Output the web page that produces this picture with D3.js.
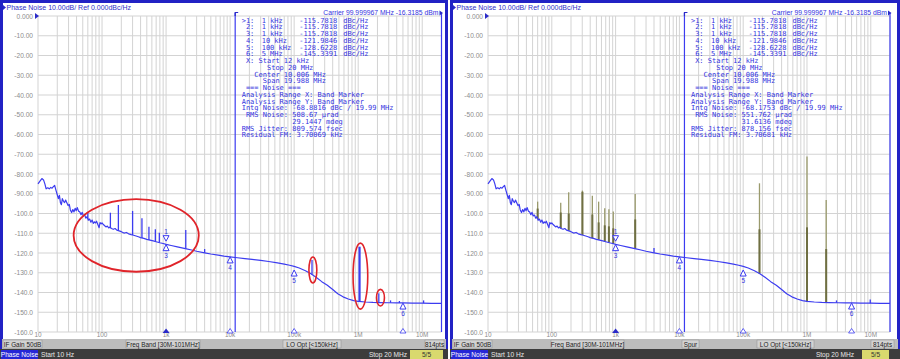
<!DOCTYPE html>
<html><head><meta charset="utf-8">
<script src="https://cdn.jsdelivr.net/npm/d3@7"></script>
<style>
html,body{margin:0;padding:0;background:#fff;}
svg{display:block;}
text{font-family:"Liberation Sans",Arial,sans-serif;}
.mono{font-family:"DejaVu Sans Mono",monospace;white-space:pre;}
</style></head><body>
<svg id="c" width="900" height="359"></svg>
<script>
// ---------------- DATA ----------------
const traceFreq = [10,10.8,11.5,12.2,12.8,13.4,14.2,15,15.8,16.6,17.5,18.2,19,20,20.8,21.6,22.4,23.2,24,25,26,27,28.2,29.5,30.8,32,33.5,35,36.5,38,39.5,41,43,45,47,49,51,53.5,56,58.5,61,64,67,70,73,76,79,82,86,90,93,97,100,105,110,115,121,127,133,140,150,160,170,185,200,220,240,260,285,310,340,370,400,450,500,560,630,700,800,900,1000,1200,1500,2000,2500,3000,4000,5000,6500,8000,10000,13000,17000,22000,30000,40000,55000,70000,85000,100000,120000,150000,180000,220000,270000,330000,400000,480000,580000,700000,850000,1000000,1300000,1700000,2200000,3000000,4000000,5000000,7000000,10000000,14000000,20000000];
const traceLevel = [-85,-83.5,-82.3,-83,-85,-87.5,-87,-87.5,-86.8,-87.2,-86.3,-85.8,-88,-90.5,-92.5,-90.8,-94.5,-95.5,-92.5,-93.8,-94.5,-93.2,-94.6,-96,-95.4,-98.2,-99.5,-98,-99.2,-97.4,-98.6,-97,-98.8,-99.2,-100.6,-99.4,-101.2,-100.8,-102.4,-101.6,-103.4,-102.8,-104.4,-103.3,-105,-104.2,-104.8,-103.9,-105.6,-107.2,-104.6,-105.2,-104.8,-105.6,-106.2,-106.8,-106.4,-107.3,-106.9,-107.6,-108,-107.6,-108.4,-108.8,-109.2,-109.9,-109.6,-110.3,-110.7,-111,-111.4,-111.8,-112.2,-112.6,-113.1,-113.5,-113.9,-114.3,-114.8,-115.2,-115.6,-116.2,-116.9,-117.8,-118.5,-119.1,-119.9,-120.5,-121.1,-121.6,-122,-122.4,-122.8,-123.2,-123.7,-124.3,-125,-125.6,-126.2,-126.8,-127.6,-129,-130.4,-132.3,-134.5,-136.3,-138.5,-140.6,-142.2,-143.3,-144.1,-144.5,-144.8,-145,-145.1,-145.2,-145.3,-145.3,-145.4,-145.4,-145.5,-145.5];

// left panel: spurs shown as spikes in the trace
const spikeFreq = [60,135,180,300,420,540,680,785,2030,4000,190000,1050000,2100000,3200000,4400000,10500000];
const spikePeak = [-99.5,-99.6,-95.7,-98.7,-102.4,-106.7,-108,-109.7,-108.4,-118,-123.5,-116.8,-140.4,-144,-144.3,-144];
const spikeBase = [-102.8,-107.4,-108.6,-110.9,-112.4,-113.4,-114.2,-114.7,-117.8,-119.9,-130.9,-144.6,-145.1,-145.2,-145.3,-145.4];

// right panel: spur-omitted trace, spurs as bars
const bumpFreq = [4000,2900000,9800000];
const bumpPeak = [-117.5,-144,-143.6];
const bumpBase = [-119.9,-145.2,-145.4];
const spurFreq = [60,138,184,302,432,542,676,785,920,2030,180000,1000000,2000000];
const spurTop  = [-94,-94.5,-89.3,-88.4,-91,-94,-97.4,-97.9,-99,-90.1,-84.7,-71.2,-93.2];
const spurMid  = [-97.5,-99.5,-100,-89,-100.5,-104.5,-106,-106.5,-107.5,-103,-108,-107,-118];
const spurBase = [-102.8,-107.5,-108.7,-110.9,-112.5,-113.3,-114.1,-114.7,-115.3,-117.8,-130.4,-144.5,-145.1];

// markers
const markerNum = [1,2,3,4,5,6];
const markerFreq = [1000,1000,1000,10000,100000,5000000];
const markerLevel = [-115.7818,-115.7818,-115.7818,-121.9846,-128.6228,-145.3391];
const markerFreqText = ["1 kHz","1 kHz","1 kHz","10 kHz","100 kHz","5 MHz"];
const markerLevelText = ["-115.7818","-115.7818","-115.7818","-121.9846","-128.6228","-145.3391"];

// axes
const yTickValues = [0,-10,-20,-30,-40,-50,-60,-70,-80,-90,-100,-110,-120,-130,-140,-150,-160];
const yTickLabels = ["0.000","-10.00","-20.00","-30.00","-40.00","-50.00","-60.00","-70.00","-80.00","-90.00","-100.0","-110.0","-120.0","-130.0","-140.0","-150.0","-160.0"];
const xTickValues = [10,100,1e3,1e4,1e5,1e6,1e7];
const xTickLabels = ["10","100","1k","10k","100k","1M","10M"];

// band marker
const bandStart = 12000, bandStop = 20000000;

// text blocks
const titleText = "Phase Noise 10.00dB/ Ref 0.000dBc/Hz";
const carrierText = "Carrier 99.999967 MHz   -16.3185 dBm";
const bandLines = [" X: Start 12 kHz","      Stop 20 MHz","   Center 10.006 MHz","     Span 19.988 MHz"," === Noise ===","Analysis Range X: Band Marker","Analysis Range Y: Band Marker"];
const leftNoise = ["Intg Noise: -68.8816 dBc / 19.99 MHz"," RMS Noise: 508.67 µrad","            29.1447 mdeg","RMS Jitter: 809.574 fsec","Residual FM: 3.70069 kHz"];
const rightNoise = ["Intg Noise: -68.1753 dBc / 19.99 MHz"," RMS Noise: 551.762 µrad","            31.6136 mdeg","RMS Jitter: 878.156 fsec","Residual FM: 3.70681 kHz"];
const leftStatus = ["IF Gain 50dB","Freq Band [30M-101MHz]","LO Opt [<150kHz]","814pts"];
const rightStatus = ["IF Gain 50dB","Freq Band [30M-101MHz]","Spur","LO Opt [<150kHz]","814pts"];

// red highlight ellipses (left panel) : freq range and level range
const ellF0 = [36,170000,832000,1930000];
const ellF1 = [3240,226000,1410000,2570000];
const ellTop = [-92.7,-122,-115,-138.4];
const ellBot = [-129.5,-135.2,-148.4,-146.8];

// ---------------- DRAW ----------------
const svg = d3.select("#c");
const BLUE = "#3c3cf0", TXT = "#3434e0", GRID = "#d3d3d3";

function panel(cfg){
  const g = svg.append("g");
  const x = d3.scaleLog().domain([10,2e7]).range([cfg.x0,cfg.x1]);
  const y = d3.scaleLinear().domain([0,-160]).range([16,332]);
  const L = cfg.ox;
  // outer frame
  g.append("rect").attr("x",L+1.5).attr("y",1.5).attr("width",cfg.w-3).attr("height",347).attr("fill","#fff").attr("stroke","#2222c4").attr("stroke-width",3);
  // title
  g.append("path").attr("d",`M${L+3},5 L${L+6},7.5 L${L+3},10 Z`).attr("fill","#2a2ac8");
  g.append("text").attr("x",L+6.5).attr("y",10).attr("font-size",7).attr("fill","#3030c8").text(titleText);
  // grid
  g.append("g").selectAll("line").data(x.ticks()).join("line")
    .attr("x1",d=>x(d)).attr("x2",d=>x(d)).attr("y1",y(0)).attr("y2",y(-160))
    .attr("stroke",GRID).attr("stroke-width",1);
  g.append("g").selectAll("line").data(yTickValues).join("line")
    .attr("x1",x(10)).attr("x2",x(2e7)).attr("y1",d=>y(d)).attr("y2",d=>y(d))
    .attr("stroke",GRID).attr("stroke-width",1);
  // y labels
  g.append("g").selectAll("text").data(yTickValues).join("text")
    .attr("x",cfg.x0-5).attr("y",d=>y(d)+2.5).attr("text-anchor","end")
    .attr("font-size",6.6).attr("fill","#8c8c8c").text((d,i)=>yTickLabels[i]);
  g.append("path").attr("d",`M${cfg.x0-3},${y(0)-3} L${cfg.x0+1},${y(0)} L${cfg.x0-3},${y(0)+3} Z`).attr("fill","#2a2ac8");
  // x labels
  g.append("g").selectAll("text").data(xTickValues).join("text")
    .attr("x",d=>x(d)).attr("y",337).attr("text-anchor","middle")
    .attr("font-size",6.4).attr("fill","#8c8c8c").text((d,i)=>xTickLabels[i]);
  // band marker lines
  const bx0 = x(bandStart), bx1 = x(bandStop);
  g.append("line").attr("x1",bx0).attr("x2",bx0).attr("y1",13).attr("y2",y(-160)).attr("stroke",BLUE).attr("stroke-width",1.2);
  g.append("line").attr("x1",bx1).attr("x2",bx1).attr("y1",13).attr("y2",y(-160)).attr("stroke",BLUE).attr("stroke-width",1.2);
  g.append("path").attr("d",`M${bx0},16 L${bx0},12.5 L${bx0+3},12.5`).attr("fill","none").attr("stroke","#2a2ac8").attr("stroke-width",1.2);
  // carrier text
  g.append("text").attr("x",cfg.x1-3).attr("y",15).attr("text-anchor","end").attr("font-size",6.8).attr("fill",TXT).text(carrierText);
  g.append("path").attr("d",`M${cfg.x1-2},10.5 L${cfg.x1+1.5},13 L${cfg.x1-2},15.5 Z`).attr("fill","#2a2ac8");
  // marker table
  const tx = bx0 + 6.5;
  const rowY = i => 22.5 + i*6.76;
  const mt = g.append("g").attr("font-size",7).attr("fill",TXT).attr("class","mono");
  markerNum.forEach((n,i)=>{
    mt.append("text").attr("class","mono").attr("x",tx).attr("y",rowY(i)).text((i===0?">":" ")+n+":");
    mt.append("text").attr("class","mono").attr("x",tx+20).attr("y",rowY(i)).text(markerFreqText[i]);
    mt.append("text").attr("class","mono").attr("x",tx+57.5).attr("y",rowY(i)).text(markerLevelText[i]);
    mt.append("text").attr("class","mono").attr("x",tx+101.5).attr("y",rowY(i)).text("dBc/Hz");
  });
  bandLines.concat(cfg.noise).forEach((s,j)=>{
    mt.append("text").attr("class","mono").attr("x",tx).attr("y",rowY(6+j)).text(s);
  });
  // extra overlay (spur bars) drawn beneath trace
  if(cfg.spurs){
    const sb = g.append("g");
    spurFreq.forEach((f,i)=>{
      sb.append("line").attr("x1",x(f)).attr("x2",x(f)).attr("y1",y(spurBase[i])).attr("y2",y(spurTop[i])).attr("stroke","#9a9a6c").attr("stroke-width",1.3);
      sb.append("line").attr("x1",x(f)).attr("x2",x(f)).attr("y1",y(spurBase[i])).attr("y2",y(spurMid[i])).attr("stroke","#6f6f42").attr("stroke-width",2);
    });
  }
  // trace
  const line = d3.line().x(d=>x(d[0])).y(d=>y(d[1]));
  g.append("path").datum(traceFreq.map((f,i)=>[f,traceLevel[i]])).attr("d",line)
    .attr("fill","none").attr("stroke",BLUE).attr("stroke-width",1.2).attr("stroke-linejoin","round");
  // spikes
  cfg.spk.f.forEach((f,i)=>{
    g.append("path").datum([[f,cfg.spk.b[i]],[f,cfg.spk.p[i]]]).attr("d",line)
      .attr("stroke",BLUE).attr("stroke-width",f>5e5&&f<1.5e6?2.2:1.3).attr("fill","none");
  });
  // markers
  markerNum.forEach((n,i)=>{
    const mx = x(markerFreq[i]), my = y(markerLevel[i]);
    if(i<2){
      if(i===1) return;
      g.append("path").attr("d",`M${mx},${my-3.5} L${mx-3},${my-9} L${mx+3},${my-9} Z`).attr("fill","#fff").attr("stroke",BLUE).attr("stroke-width",1);
      g.append("text").attr("x",mx).attr("y",my-11).attr("text-anchor","middle").attr("font-size",6.5).attr("fill",TXT).text(String(n));
    } else {
      g.append("path").attr("d",`M${mx},${my} L${mx-3},${my+6} L${mx+3},${my+6} Z`).attr("fill","#fff").attr("stroke",BLUE).attr("stroke-width",1);
      g.append("text").attr("x",mx).attr("y",my+13).attr("text-anchor","middle").attr("font-size",6.5).attr("fill",TXT).text(String(n));
    }
    // axis marker
    const ay = y(-160);
    if(i===0){
      g.append("path").attr("d",`M${mx},${ay-3.5} L${mx-3.5},${ay+1} L${mx+3.5},${ay+1} Z`).attr("fill","#2a2ac8");
    } else if(i>=3){
      g.append("path").attr("d",`M${mx},${ay-3.5} L${mx-3},${ay+1} L${mx+3},${ay+1} Z`).attr("fill","#fff").attr("stroke",BLUE).attr("stroke-width",0.8);
    }
  });
  // red ellipses
  if(cfg.ellipses){
    ellF0.forEach((f0,i)=>{
      const xa = x(f0), xb = x(ellF1[i]), ya = y(ellTop[i]), yb = y(ellBot[i]);
      g.append("ellipse").attr("cx",(xa+xb)/2).attr("cy",(ya+yb)/2).attr("rx",(xb-xa)/2).attr("ry",(yb-ya)/2)
        .attr("fill","none").attr("stroke","#e0242a").attr("stroke-width",i===0?1.8:1.6);
    });
  }
  // status bar
  g.append("rect").attr("x",L+2).attr("y",339).attr("width",cfg.w-4).attr("height",10).attr("fill","#bdbdbd");
  cfg.status.forEach((s,i)=>{
    const b = cfg.boxes[i];
    g.append("rect").attr("x",L+b[0]).attr("y",340).attr("width",b[1]-b[0]).attr("height",8).attr("fill","#d2d2d2").attr("stroke","#8e8e8e").attr("stroke-width",0.5);
    g.append("text").attr("x",L+(b[0]+b[1])/2).attr("y",346.5).attr("text-anchor","middle").attr("font-size",6.4).attr("fill","#222").text(s);
  });
  // dark bar
  g.append("rect").attr("x",L).attr("y",349).attr("width",cfg.w).attr("height",10).attr("fill","#3c3c3c");
  g.append("rect").attr("x",L+1).attr("y",350).attr("width",37).attr("height",9).attr("fill","#2626d6");
  g.append("text").attr("x",L+19.5).attr("y",357).attr("text-anchor","middle").attr("font-size",6.6).attr("fill","#fff").text("Phase Noise");
  g.append("text").attr("x",L+41).attr("y",357).attr("font-size",6.6).attr("fill","#e8e8e8").text("Start 10 Hz");
  g.append("text").attr("x",L+cfg.stopX).attr("y",357).attr("text-anchor","end").attr("font-size",6.6).attr("fill","#e8e8e8").text("Stop 20 MHz");
  g.append("rect").attr("x",L+cfg.pg[0]).attr("y",350).attr("width",cfg.pg[1]-cfg.pg[0]).attr("height",9).attr("fill","#d9d96e");
  g.append("text").attr("x",L+(cfg.pg[0]+cfg.pg[1])/2).attr("y",357).attr("text-anchor","middle").attr("font-size",6.6).attr("fill","#333").text("5/5");
}

panel({ox:0,w:448,x0:38,x1:441.5,noise:leftNoise,spk:{f:spikeFreq,p:spikePeak,b:spikeBase},
  ellipses:true,status:leftStatus,boxes:[[3,42],[126,200],[283,341],[425,444]],stopX:407,pg:[410,443]});
panel({ox:450,w:450,x0:488,x1:890,noise:rightNoise,spk:{f:bumpFreq,p:bumpPeak,b:bumpBase},spurs:true,
  status:rightStatus,boxes:[[3,42],[101,174],[232,249],[307,364],[421,444]],stopX:404,pg:[412,439]});
</script>
</body></html>
